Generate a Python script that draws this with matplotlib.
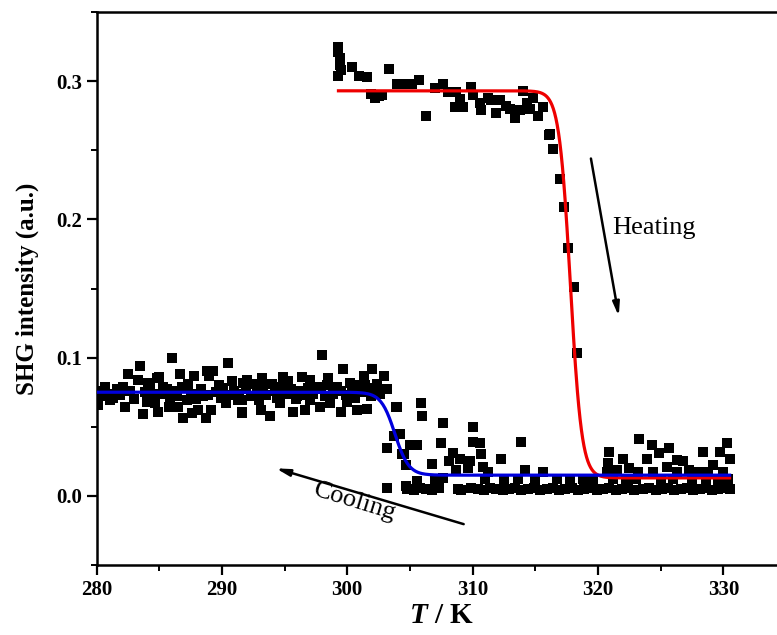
import numpy as np
import matplotlib.pyplot as plt
from matplotlib.ticker import MultipleLocator

plt.rcParams['font.family'] = ['Liberation Serif', 'DejaVu Serif']
plt.rcParams['mathtext.fontset'] = 'custom'
plt.rcParams['mathtext.rm'] = 'Liberation Serif:bold'
plt.rcParams['mathtext.it'] = 'Liberation Serif:italic:bold'

# heating run: high plateau, drop, and scatter above the low baseline
heat_T = [299.3, 299.3, 299.4, 299.4, 299.5, 299.3, 300.4, 300.9, 301.6, 302.2,
          302.8, 303.3, 304.0, 304.8, 305.2, 305.7, 306.3, 307.0, 307.6, 308.0,
          308.7, 309.0, 308.6, 309.2, 309.9, 310.0, 310.6, 310.7, 311.2, 311.5,
          311.9, 312.2, 312.7, 313.0, 313.4, 313.8, 314.0, 314.3, 314.6, 314.8,
          315.2, 315.6, 316.1, 316.4, 316.2, 317.0, 317.3, 317.6, 318.1, 318.3,
          320.9, 320.8, 322.0, 323.3, 324.3, 323.9, 324.9, 325.7, 326.3, 326.8,
          325.5, 322.5, 328.4, 329.2, 330.3, 329.7, 330.5, 327.3, 328.0, 330.0,
          320.7, 321.5, 323.2, 324.4, 326.3, 328.8, 301.9, 302.5]
heat_I = [0.325, 0.321, 0.317, 0.312, 0.308, 0.304, 0.310, 0.304, 0.303, 0.288,
          0.290, 0.309, 0.298, 0.298, 0.298, 0.301, 0.275, 0.295, 0.298, 0.292,
          0.292, 0.287, 0.281, 0.281, 0.296, 0.290, 0.284, 0.279, 0.288, 0.286,
          0.277, 0.286, 0.282, 0.280, 0.273, 0.279, 0.293, 0.284, 0.280, 0.288,
          0.275, 0.281, 0.261, 0.251, 0.262, 0.229, 0.209, 0.179, 0.151, 0.103,
          0.032, 0.024, 0.027, 0.041, 0.037, 0.027, 0.031, 0.035, 0.026, 0.025,
          0.021, 0.020, 0.032, 0.022, 0.038, 0.032, 0.027, 0.019, 0.017, 0.017,
          0.017, 0.019, 0.017, 0.017, 0.017, 0.017, 0.291, 0.289]

# cooling run: low plateau points and the step near 303 K
cool_T = [286.0, 283.5, 282.5, 280.7, 281.6, 280.1, 281.1, 282.3, 283.7, 283.3,
          284.1, 284.8, 284.0, 284.7, 285.6, 285.8, 286.5, 286.7, 286.9, 286.4,
          287.8, 287.3, 287.2, 288.1, 288.8, 289.3, 289.1, 288.7, 288.5, 289.8,
          290.5, 290.8, 290.3, 291.3, 291.6, 291.7, 298.0, 299.7, 302.0, 301.3,
          302.9, 292.0, 292.5, 291.6, 291.6, 293.8, 295.7, 294.9, 294.0, 293.0,
          294.6, 296.0, 297.0, 297.6, 297.0, 297.8, 298.6, 299.2, 300.2, 300.0,
          300.8, 300.8, 301.4, 302.4, 302.6, 303.2, 303.9, 303.7, 303.2, 304.2,
          304.5, 304.7, 303.2, 304.7,
          280.3, 280.5, 280.9, 281.3, 281.9, 282.1, 282.7, 283.0, 283.9, 284.3,
          284.5, 285.1, 285.3, 285.9, 286.2, 286.8, 287.5, 287.9, 288.3, 288.9,
          289.5, 289.9, 290.1, 290.6, 291.0, 291.4, 291.9, 292.3, 292.8, 293.3,
          293.5, 294.2, 294.4, 294.8, 295.2, 295.5, 295.9, 296.3, 296.6, 296.9,
          297.3, 297.9, 298.2, 298.4, 298.9, 299.5, 299.9, 300.4, 300.6, 301.1,
          301.7, 301.9, 302.2, 293.2, 295.3, 296.4, 298.5, 289.0, 285.0, 293.1,
          296.6, 299.5, 301.6, 287.6, 284.9]
cool_I = [0.100, 0.094, 0.088, 0.079, 0.077, 0.066, 0.069, 0.064, 0.059, 0.084,
          0.082, 0.085, 0.068, 0.067, 0.077, 0.064, 0.064, 0.088, 0.056, 0.072,
          0.087, 0.081, 0.069, 0.062, 0.090, 0.090, 0.062, 0.056, 0.072, 0.080,
          0.096, 0.083, 0.067, 0.069, 0.061, 0.082, 0.102, 0.092, 0.092, 0.087,
          0.087, 0.084, 0.081, 0.069, 0.060, 0.058, 0.061, 0.086, 0.081, 0.069,
          0.067, 0.072, 0.084, 0.079, 0.069, 0.064, 0.067, 0.079, 0.082, 0.068,
          0.062, 0.080, 0.080, 0.081, 0.074, 0.077, 0.064, 0.043, 0.035, 0.045,
          0.030, 0.022, 0.006, 0.007,
          0.072, 0.076, 0.074, 0.071, 0.073, 0.079, 0.076, 0.070, 0.075, 0.078,
          0.071, 0.074, 0.079, 0.071, 0.076, 0.079, 0.074, 0.070, 0.077, 0.073,
          0.075, 0.071, 0.078, 0.073, 0.076, 0.074, 0.077, 0.072, 0.075, 0.078,
          0.073, 0.076, 0.071, 0.079, 0.074, 0.077, 0.070, 0.076, 0.073, 0.078,
          0.074, 0.077, 0.072, 0.080, 0.074, 0.076, 0.073, 0.077, 0.071, 0.075,
          0.078, 0.072, 0.076, 0.085, 0.083, 0.086, 0.085, 0.087, 0.086, 0.062,
          0.062, 0.061, 0.063, 0.060, 0.061]

# cooling run: points in the low region after the step
low_T = [304.0, 305.9, 306.0, 307.6, 310.0, 304.2, 305.0, 305.6, 304.4, 307.5,
         310.0, 310.6, 313.9, 308.4, 309.0, 309.8, 310.7, 306.8, 308.1, 308.7,
         309.6, 310.8, 312.3, 311.2, 314.2, 315.6, 307.6,
         304.8, 305.3, 305.8, 306.3, 306.8, 307.3, 308.8, 309.1, 309.9, 310.4,
         310.9, 311.4, 311.9, 312.4, 312.9, 313.4, 313.9, 314.4, 314.9, 315.4,
         315.9, 316.4, 316.9, 317.4, 317.9, 318.4, 318.9, 319.4, 319.9, 320.4,
         320.9, 321.4, 321.9, 322.4, 322.9, 323.6, 324.1, 324.6, 325.1, 325.6,
         326.1, 326.6, 327.1, 327.6, 328.1, 328.6, 329.1, 329.6, 330.1, 330.5,
         305.6, 307.0, 311.0, 312.5, 313.6, 315.0, 316.7, 317.8, 318.8, 319.6,
         321.2, 322.2, 323.0, 325.0, 326.0, 327.5, 328.6, 329.6, 330.4]
low_I = [0.064, 0.067, 0.058, 0.053, 0.050, 0.045, 0.037, 0.037, 0.030, 0.038,
         0.039, 0.038, 0.039, 0.031, 0.027, 0.025, 0.030, 0.023, 0.025, 0.019,
         0.020, 0.021, 0.027, 0.017, 0.019, 0.017, 0.013,
         0.005, 0.004, 0.006, 0.005, 0.004, 0.006, 0.005, 0.004, 0.006, 0.005,
         0.004, 0.006, 0.005, 0.004, 0.005, 0.006, 0.004, 0.005, 0.006, 0.004,
         0.005, 0.006, 0.004, 0.005, 0.006, 0.004, 0.005, 0.006, 0.004, 0.005,
         0.006, 0.004, 0.005, 0.006, 0.004, 0.005, 0.006, 0.004, 0.005, 0.006,
         0.004, 0.005, 0.006, 0.004, 0.005, 0.006, 0.004, 0.005, 0.006, 0.005,
         0.011, 0.011, 0.012, 0.011, 0.012, 0.011, 0.012, 0.011, 0.012, 0.011,
         0.012, 0.011, 0.012, 0.011, 0.012, 0.011, 0.012, 0.011, 0.012]

# Boltzmann fit parameters (A1, A2, x0, dx) and fit ranges
heat_fit = (0.293, 0.013, 317.8, 0.45)
heat_range = (299.3, 330.5)
cool_fit = (0.075, 0.015, 303.8, 0.55)
cool_range = (280.0, 330.5)


def boltzmann(x, a1, a2, x0, dx):
    return a2 + (a1 - a2) / (1 + np.exp((x - x0) / dx))


fig = plt.figure(figsize=(7.77, 6.35), dpi=100)
ax = fig.add_axes([0.1242, 0.1102, 0.8874, 0.8709])

ax.scatter(cool_T, cool_I, marker='s', s=42, c='black', linewidths=0, zorder=2)
ax.scatter(low_T, low_I, marker='s', s=42, c='black', linewidths=0, zorder=2)
ax.scatter(heat_T, heat_I, marker='s', s=42, c='black', linewidths=0, zorder=2)

xr = np.linspace(*heat_range, 600)
ax.plot(xr, boltzmann(xr, *heat_fit), color='#ee0000', lw=2.3, zorder=3)
xb = np.linspace(*cool_range, 600)
ax.plot(xb, boltzmann(xb, *cool_fit), color='#0000dd', lw=2.3, zorder=4)

# arrows and labels
ax.annotate('', xy=(321.7, 0.128), xytext=(319.4, 0.246),
            arrowprops=dict(arrowstyle='-|>,head_length=0.8,head_width=0.2',
                            color='black', lw=1.8))
ax.text(321.1, 0.194, 'Heating', fontsize=19, va='center', ha='left')
ax.annotate('', xy=(294.1, 0.0205), xytext=(309.5, -0.021),
            arrowprops=dict(arrowstyle='-|>,head_length=0.8,head_width=0.2',
                            color='black', lw=1.8))
ax.text(300.6, -0.004, 'Cooling', fontsize=19, va='center', ha='center',
        rotation=-17)

ax.set_xlim(280, 335)
ax.set_ylim(-0.05, 0.35)
ax.xaxis.set_major_locator(MultipleLocator(10))
ax.xaxis.set_minor_locator(MultipleLocator(5))
ax.set_yticks([0.0, 0.1, 0.2, 0.3])
ax.yaxis.set_minor_locator(MultipleLocator(0.05))

for s in ax.spines.values():
    s.set_linewidth(1.8)
ax.tick_params(which='major', direction='out', length=7, width=1.6,
               labelsize=15, top=False, right=False)
ax.tick_params(which='minor', direction='out', length=4, width=1.4,
               top=False, right=False)
for lab in ax.get_xticklabels() + ax.get_yticklabels():
    lab.set_fontweight('bold')

ax.set_xlabel(r'$T$ / K', fontsize=21, fontweight='bold', labelpad=2)
ax.set_ylabel('SHG intensity (a.u.)', fontsize=18, fontweight='bold', labelpad=12)

plt.savefig('out.png', dpi=100)
plt.close()
